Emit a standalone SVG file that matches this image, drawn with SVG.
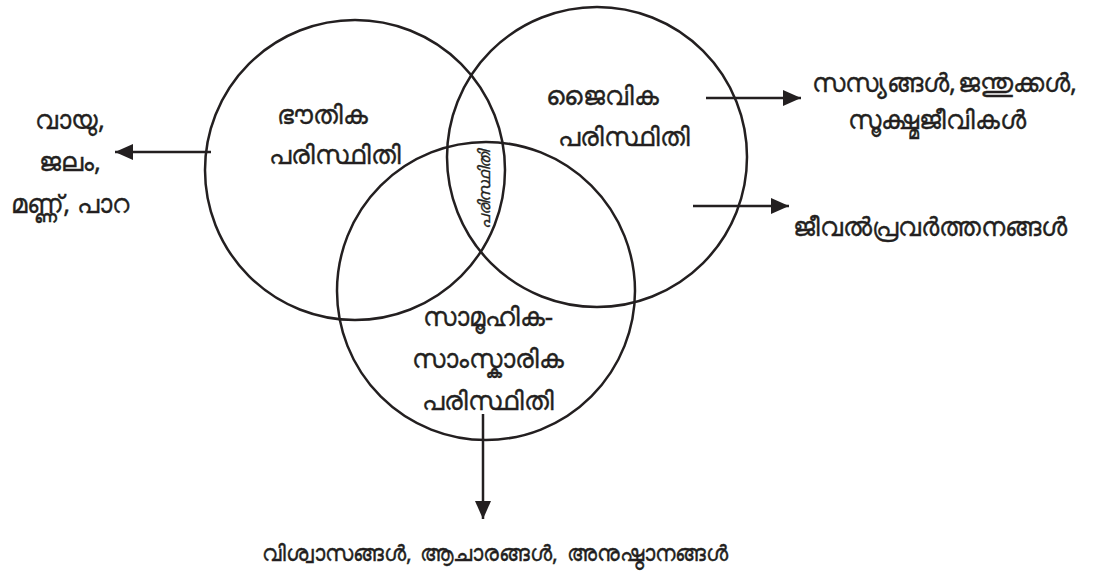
<svg xmlns="http://www.w3.org/2000/svg" width="1103" height="577" viewBox="0 0 1103 577">
<style>
.c{fill:none;stroke:#231f20;stroke-width:2.5}
.a{stroke:#231f20;stroke-width:2.5;fill:none}
text{font-family:"Noto Sans",sans-serif;font-size:26px;fill:#231f20;stroke:#231f20;stroke-width:0.35;text-anchor:middle}
.s{text-anchor:start}
.b{font-size:22px}
.v{font-size:16px;font-style:italic}
</style>
<defs>
<marker id="ah" markerUnits="userSpaceOnUse" markerWidth="20" markerHeight="16" refX="18" refY="8" orient="auto">
<path d="M0,0 L18,8 L0,16 Z" fill="#231f20"/>
</marker>
</defs>
<rect width="1103" height="577" fill="#fff"/>
<g id="physical">
<circle class="c" cx="355" cy="170" r="150"/>
<text x="322" y="124">ഭൗതിക</text>
<text x="335" y="164">പരിസ്ഥിതി</text>
</g>
<g id="biological">
<circle class="c" cx="597" cy="157" r="150"/>
<text x="602" y="105">ജൈവിക</text>
<text x="624" y="146">പരിസ്ഥിതി</text>
</g>
<g id="social">
<circle class="c" cx="486" cy="291" r="149"/>
<text x="488" y="326">സാമൂഹിക-</text>
<text x="488" y="368">സാംസ്കാരിക</text>
<text x="488" y="410">പരിസ്ഥിതി</text>
</g>
<g id="overlap">
<text class="v" transform="translate(490,190) rotate(-90)">പരിസ്ഥിതി</text>
</g>
<g id="connectors">
<line class="a" x1="211" y1="152" x2="115" y2="152" marker-end="url(#ah)"/>
<line class="a" x1="706" y1="98" x2="801" y2="98" marker-end="url(#ah)"/>
<line class="a" x1="693" y1="206" x2="789" y2="206" marker-end="url(#ah)"/>
<line class="a" x1="483" y1="414" x2="483" y2="519" marker-end="url(#ah)"/>
</g>
<g id="abiotic">
<text x="70" y="129">വായു,</text>
<text x="70" y="171">ജലം,</text>
<text x="70" y="213">മണ്ണ്, പാറ</text>
</g>
<g id="organisms">
<text class="s" x="812" y="92">സസ്യങ്ങൾ,<tspan x="958">ജന്തുക്കൾ,</tspan></text>
<text class="s" x="848" y="129">സൂക്ഷ്മജീവികൾ</text>
</g>
<g id="lifeprocesses">
<text class="s" x="793" y="236">ജീവൽപ്രവർത്തനങ്ങൾ</text>
</g>
<g id="beliefs">
<text class="s b" x="262" y="561">വിശ്വാസങ്ങൾ,<tspan x="420">ആചാരങ്ങൾ,</tspan><tspan x="567">അനുഷ്ഠാനങ്ങൾ</tspan></text>
</g>
</svg>
